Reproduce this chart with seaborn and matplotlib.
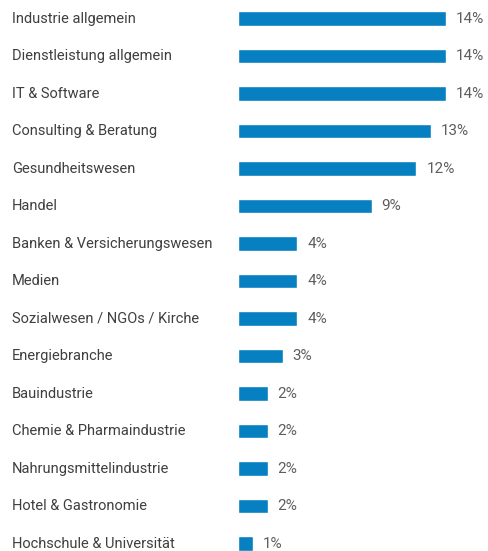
import matplotlib
matplotlib.use("Agg")
import matplotlib.pyplot as plt
import seaborn as sns

categories = [
    "Industrie allgemein",
    "Dienstleistung allgemein",
    "IT & Software",
    "Consulting & Beratung",
    "Gesundheitswesen",
    "Handel",
    "Banken & Versicherungswesen",
    "Medien",
    "Sozialwesen / NGOs / Kirche",
    "Energiebranche",
    "Bauindustrie",
    "Chemie & Pharmaindustrie",
    "Nahrungsmittelindustrie",
    "Hotel & Gastronomie",
    "Hochschule & Universität",
]
values = [14, 14, 14, 13, 12, 9, 4, 4, 4, 3, 2, 2, 2, 2, 1]
value_labels = [f"{v}%" for v in values]

BAR_COLOR = "#0680c1"
TEXT_COLOR = "#3f3f3f"
VALUE_COLOR = "#5e5e5e"

sns.set_theme(style="white")
plt.rcParams["font.family"] = ["Roboto", "DejaVu Sans"]

W, H = 489, 551
fig = plt.figure(figsize=(W / 100, H / 100), dpi=100)
ax = fig.add_axes([0, 0, 1, 1])

sns.barplot(x=values, y=categories, orient="h", color=BAR_COLOR, width=0.38,
            saturation=1, ax=ax)

px_per_unit = 14.86
x0 = 238
ax.set_xlim(-x0 / px_per_unit, (W - x0) / px_per_unit)
row_px = 37.5
y0 = 18.5
ax.set_ylim((H - y0) / row_px, -y0 / row_px)

label_x = (12 - x0) / px_per_unit
for i, (cat, v, lab) in enumerate(zip(categories, values, value_labels)):
    ax.text(label_x, i, cat, ha="left", va="center", fontsize=10.5, color=TEXT_COLOR)
    ax.text(v + 10 / px_per_unit, i, lab, ha="left", va="center", fontsize=11,
            color=VALUE_COLOR)

ax.axis("off")
fig.savefig("out.png", dpi=100)
